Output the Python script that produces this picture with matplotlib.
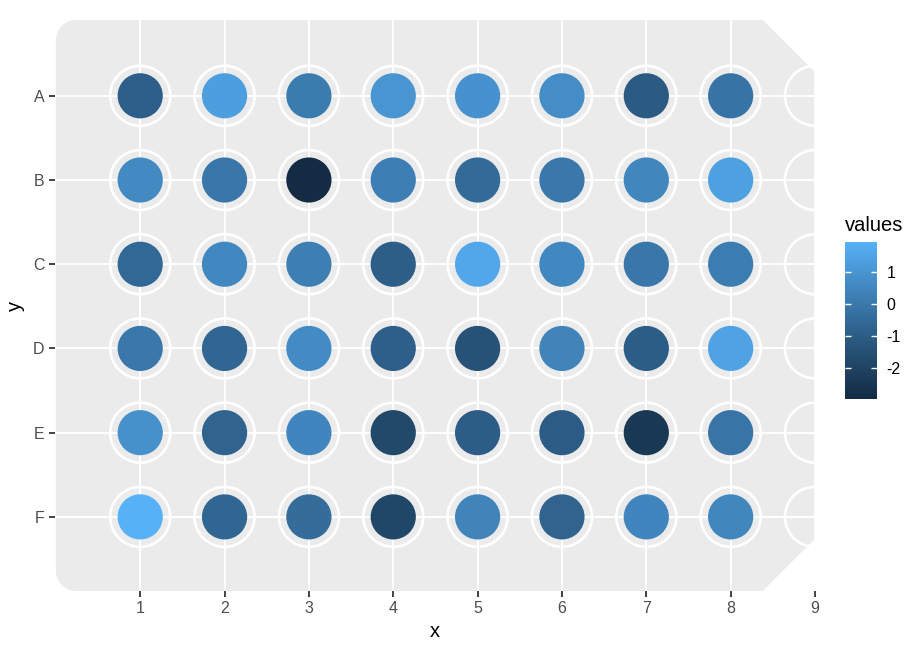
import numpy as np
import matplotlib
matplotlib.use("Agg")
import matplotlib.pyplot as plt
from matplotlib.patches import Circle, Polygon
from matplotlib.colors import ListedColormap, Normalize

plt.rcParams['font.family'] = ['Liberation Sans', 'DejaVu Sans']
plt.rcParams['axes.unicode_minus'] = False

# plate layout: rows A-F, columns 1-8 filled, column 9 empty
rows = ['A', 'B', 'C', 'D', 'E', 'F']
cols = [1, 2, 3, 4, 5, 6, 7, 8]
x_ticks = [1, 2, 3, 4, 5, 6, 7, 8, 9]

row_A = [-0.9, 1.3, 0.1, 1.0, 0.9, 0.7, -1.1, -0.2]
row_B = [0.6, -0.05, -2.97, 0.25, -0.5, 0.0, 0.5, 1.4]
row_C = [-0.6, 0.55, 0.2, -0.95, 1.6, 0.55, -0.05, 0.15]
row_D = [0.0, -0.65, 0.65, -0.9, -1.4, 0.4, -1.0, 1.45]
row_E = [0.85, -0.75, 0.45, -1.8, -1.0, -1.05, -2.45, -0.15]
row_F = [1.94, -0.65, -0.45, -1.85, 0.4, -0.75, 0.45, 0.5]
values = [row_A, row_B, row_C, row_D, row_E, row_F]
cbar_ticks = [-2, -1, 0, 1]


# ggplot2 default gradient (#132B43 -> #56B1F7), interpolated in Lab
def hex_to_rgb(h):
    return np.array([int(h[i:i + 2], 16) / 255 for i in (1, 3, 5)])

M = np.array([[0.4124, 0.3576, 0.1805],
              [0.2126, 0.7152, 0.0722],
              [0.0193, 0.1192, 0.9505]])
WHITE = np.array([0.95047, 1.0, 1.08883])

def rgb_to_lab(rgb):
    lin = np.where(rgb <= 0.04045, rgb / 12.92, ((rgb + 0.055) / 1.055) ** 2.4)
    xyz = M @ lin / WHITE
    f = np.where(xyz > 0.008856, np.cbrt(xyz), 7.787 * xyz + 16 / 116)
    return np.array([116 * f[1] - 16, 500 * (f[0] - f[1]), 200 * (f[1] - f[2])])

def lab_to_rgb(lab):
    fy = (lab[0] + 16) / 116
    f = np.array([fy + lab[1] / 500, fy, fy - lab[2] / 200])
    xyz = np.where(f ** 3 > 0.008856, f ** 3, (f - 16 / 116) / 7.787) * WHITE
    lin = np.linalg.solve(M, xyz)
    rgb = np.where(lin <= 0.0031308, 12.92 * lin, 1.055 * np.clip(lin, 0, None) ** (1 / 2.4) - 0.055)
    return np.clip(rgb, 0, 1)

lo, hi = rgb_to_lab(hex_to_rgb('#132B43')), rgb_to_lab(hex_to_rgb('#56B1F7'))
cmap = ListedColormap([lab_to_rgb(lo + t * (hi - lo)) for t in np.linspace(0, 1, 256)])
flat = np.array(values).ravel()
norm = Normalize(vmin=flat.min(), vmax=flat.max())

fig = plt.figure(figsize=(9.24, 6.6), dpi=100)
ax = fig.add_axes([55 / 924, 69 / 660, 760 / 924, 571 / 660])
ax.set_xlim(-0.01, 9.0)
ax.set_ylim(6.88, 0.1)

# plate outline: rounded left corners, cut right corners
top, bot, r = 0.1, 6.88, 0.24
t = np.linspace(0, np.pi / 2, 12)
tl = np.column_stack([r - r * np.cos(t), top + r - r * np.sin(t)])
bl = np.column_stack([r - r * np.cos(t[::-1]), bot - r + r * np.sin(t[::-1])])
right = np.array([[8.38, top], [9.5, top + 1.12], [9.5, bot - 1.12], [8.38, bot]])
outline = np.vstack([tl, right, bl])
ax.add_patch(Polygon(outline, closed=True, facecolor='#EBEBEB', edgecolor='none', zorder=0.2))

ax.set_axisbelow(True)
ax.grid(True, color='white', linewidth=1.4)

for i, row in enumerate(values):
    y = i + 1
    for c, v in zip(cols, row):
        ax.add_patch(Circle((c, y), 0.356, fill=False, edgecolor='white', linewidth=1.9, zorder=2))
        ax.add_patch(Circle((c, y), 0.268, facecolor=cmap(norm(v)), edgecolor='none', zorder=3))
    ax.add_patch(Circle((9, y), 0.356, fill=False, edgecolor='white', linewidth=1.9, zorder=2))

ax.set_xticks(x_ticks)
ax.set_yticks(range(1, len(rows) + 1))
ax.set_yticklabels(rows)
for s in ax.spines.values():
    s.set_visible(False)
ax.tick_params(length=4.5, width=1.3, color='#333333', labelcolor='#4D4D4D', labelsize=11.5, pad=3)
ax.set_xlabel('x', fontsize=14.5, labelpad=4)
ax.set_ylabel('y', fontsize=14.5, labelpad=6)

cax = fig.add_axes([845 / 924, 261 / 660, 32 / 924, 157 / 660])
sm = plt.cm.ScalarMappable(norm=norm, cmap=cmap)
cbar = fig.colorbar(sm, cax=cax, ticks=cbar_ticks)
cbar.outline.set_visible(False)
cax.tick_params(direction='in', color='white', length=4.6, width=1, left=True, right=True,
                labelsize=11.5, labelcolor='black', pad=7)
cax.set_title('values', fontsize=14.5, loc='left', pad=8)

fig.savefig('out.png', dpi=100)
